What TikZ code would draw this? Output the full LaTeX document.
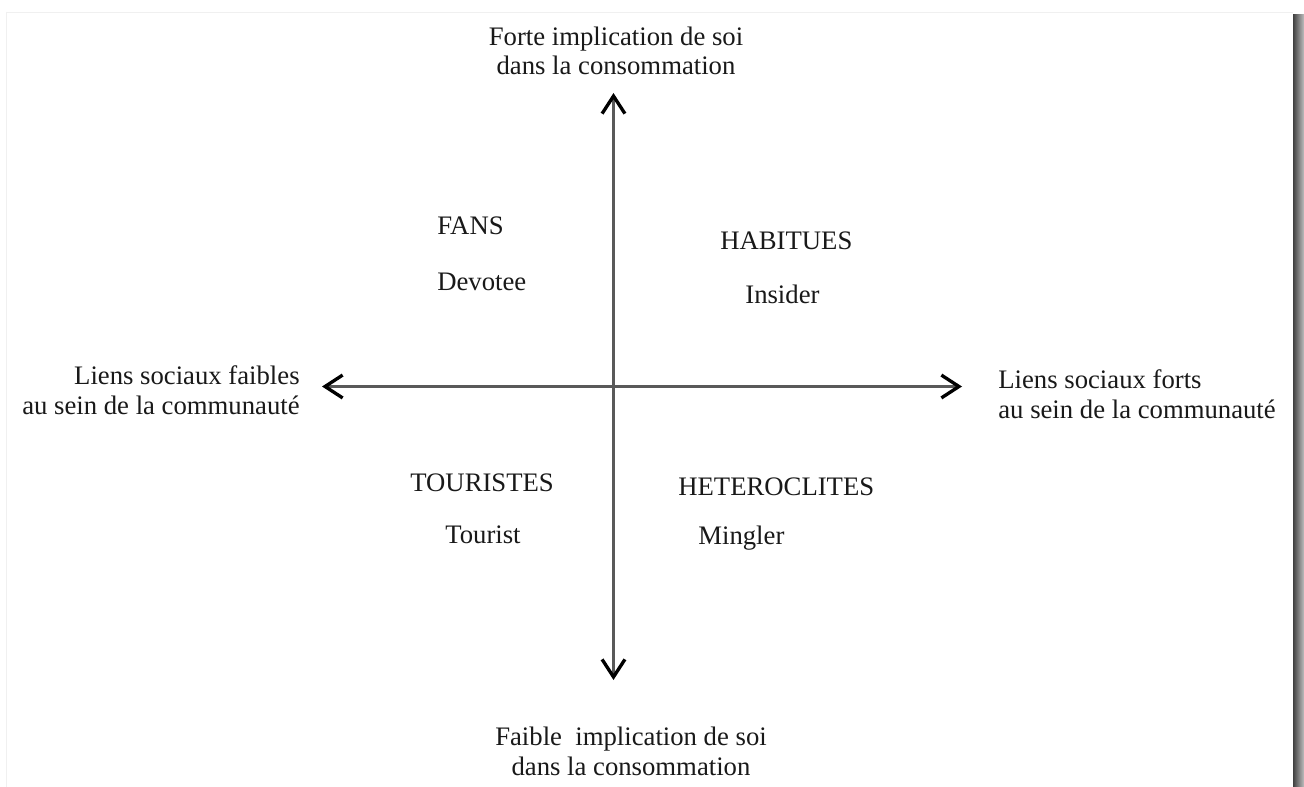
\documentclass[tikz,border=0pt]{standalone}
\usepackage{fontspec}
\setmainfont{Liberation Serif}
\usetikzlibrary{arrows.meta}
\begin{document}
\begin{tikzpicture}[x=0.02cm,y=-0.02cm,
  axe/.style={draw=black!65,line width=1.6pt,
    {Straight Barb[color=black,length=10pt,width=13pt,line width=1.9pt]}-{Straight Barb[color=black,length=10pt,width=13pt,line width=1.9pt]}},
  lbl/.style={inner sep=0pt,text=black!90,font=\fontsize{15.2}{16.8}\selectfont}]
\useasboundingbox (0,0) rectangle (1304,787);
\fill[white] (0,0) rectangle (1304,787);
\draw[black!6] (6.5,12) -- (1292.5,12);
\draw[black!6] (6.5,12) -- (6.5,787);
\shade[left color=black!75,right color=black!25] (1293,15) rectangle (1304,787);
\coordinate (haut) at (613.5,93);
\coordinate (bas) at (613.5,680);
\coordinate (gauche) at (322,386.5);
\coordinate (droite) at (962,386.5);
\draw[axe] (bas) -- (haut);
\draw[axe] (gauche) -- (droite);
\node[lbl,align=center,anchor=base] (forte) at (616,75) {Forte implication de soi\\dans la consommation};
\node[lbl,align=center,anchor=base] (faible) at (631,775) {Faible\ \ implication de soi\\dans la consommation};
\node[lbl,align=right,anchor=base east] (faibles) at (300,414) {Liens sociaux faibles\\au sein de la communauté};
\node[lbl,align=left,anchor=base west] (forts) at (998,418) {Liens sociaux forts\\au sein de la communauté};
\node[lbl,anchor=base west] (fans) at (437,235) {FANS};
\node[lbl,anchor=base west] (devotee) at (437,290) {Devotee};
\node[lbl,anchor=base west] (habitues) at (720,249) {HABITUES};
\node[lbl,anchor=base west] (insider) at (745,303) {Insider};
\node[lbl,anchor=base west] (touristes) at (410,491) {TOURISTES};
\node[lbl,anchor=base west] (tourist) at (445,543) {Tourist};
\node[lbl,anchor=base west] (heteroclites) at (678,495) {HETEROCLITES};
\node[lbl,anchor=base west] (mingler) at (698,544) {Mingler};
\end{tikzpicture}
\end{document}
